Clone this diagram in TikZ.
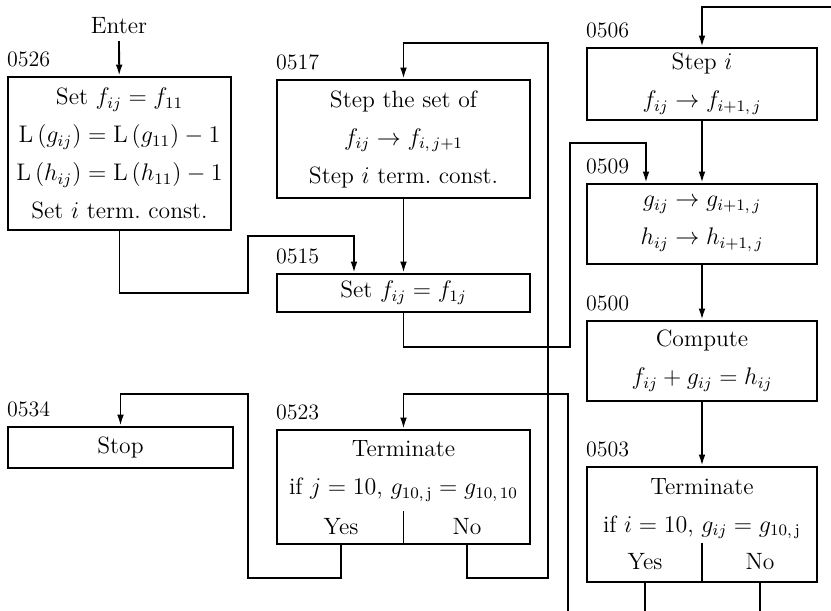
\documentclass[tikz,border=0pt]{standalone}
\usetikzlibrary{arrows.meta}

\begin{document}
\begin{tikzpicture}[x=0.5pt, y=-0.5pt,
        box/.style={draw, line width=1.4pt, inner sep=0pt, align=center, font=\fontsize{11.8}{19}\selectfont},
        addr/.style={anchor=south west, inner xsep=0pt, inner ysep=4pt, font=\fontsize{11}{13}\selectfont},
        txt/.style={font=\fontsize{11.8}{13}\selectfont},
        link/.style={line width=0.9pt, -{Latex[length=5.5pt,width=3.4pt]}},
        line/.style={line width=0.9pt},
        ]
                \useasboundingbox (0,0) rectangle (831,611);

                \node[txt] at(119,26) (enter) {Enter};

                \node[box, minimum width=111.5pt, minimum height=76.5pt] at(119.5,153.5) (0526)
                    {Set $f_{ij} = f_{11}$\\ $\mathrm{L}\,(g_{ij}) = \mathrm{L}\,(g_{11}) - 1$\\ $\mathrm{L}\,(h_{ij}) = \mathrm{L}\,(h_{11}) - 1$\\ Set $i$ term.\ const.};
                \node[box, minimum width=126.5pt, minimum height=59pt] at(403.5,139) (0517)
                    {Step the set of\\ $f_{ij} \to f_{i,\,j+1}$\\ Step $i$ term.\ const.};
                \node[box, minimum width=126.5pt, minimum height=19pt] at(403.5,293) (0515)
                    {Set $f_{ij} = f_{1j}$};
                \node[box, minimum width=115pt, minimum height=36pt] at(702,84) (0506)
                    {Step $i$\\ $f_{ij} \to f_{i+1,\,j}$};
                \node[box, minimum width=115pt, minimum height=40pt] at(702,224) (0509)
                    {$g_{ij} \to g_{i+1,\,j}$\\ $h_{ij} \to h_{i+1,\,j}$};
                \node[box, minimum width=115pt, minimum height=40pt] at(702,361) (0500)
                    {Compute\\ $f_{ij} + g_{ij} = h_{ij}$};
                \node[box, minimum width=115pt, minimum height=57.5pt] at(702,524.5) (0503)
                    {Terminate\\ if $i = 10$, $g_{ij} = g_{10,\,\mathrm{j}}$\\ \phantom{Yes}};
                \node[box, minimum width=112.5pt, minimum height=20.5pt] at(120.5,447.5) (0534)
                    {Stop};
                \node[box, minimum width=126.5pt, minimum height=57pt] at(403.5,487) (0523)
                    {Terminate\\ if $j = 10$, $g_{10,\,\mathrm{j}} = g_{10,\,10}$\\ \phantom{Yes}};

                \node[txt] at(645,562) (y0503) {Yes};
                \node[txt] at(760,562) (n0503) {No};
                \node[txt] at(341,527) (y0523) {Yes};
                \node[txt] at(467,527) (n0523) {No};

                \node[addr] at(0526.north west) (a0526) {0526};
                \node[addr] at(0517.north west) (a0517) {0517};
                \node[addr] at(0515.north west) (a0515) {0515};
                \node[addr] at(0506.north west) (a0506) {0506};
                \node[addr] at(0509.north west) (a0509) {0509};
                \node[addr] at(0500.north west) (a0500) {0500};
                \node[addr] at(0503.north west) (a0503) {0503};
                \node[addr] at(0534.north west) (a0534) {0534};
                \node[addr] at(0523.north west) (a0523) {0523};

                \draw[line] (0503.south) -- ++(0,-40) ;
                \draw[line] (0523.south) -- ++(0,-34) ;

                \coordinate (loop0506) at (831,7);
                \coordinate (loop0523) at (568,611);

                \draw[link] (enter)  --  (0526) ;
                \draw[link] (0526)  |-  (248,293) |- (354,236) -- (354,236 |- 0515.north) ;
                \draw[link] (0517)  --  (0515) ;
                \draw[link] (0515)  |-  (570,347) |- (646,143) -- (646,143 |- 0509.north) ;
                \draw[link] (loop0506)  -|  (0506) ;
                \draw[link] (0506)  --  (0509) ;
                \draw[link] (0509)  --  (0500) ;
                \draw[link] (0500)  --  (0503) ;
                \draw[link] (n0523 |- 0523.south)  |-  (548,578) |- (0517.north |- 0,43) -- (0517.north) ;
                \draw[link] (y0523 |- 0523.south)  |-  (248,578) |- (0534.north |- 0,394) -- (0534.north) ;
                \draw[link] (loop0523)  |-  (0523.north |- 0,394) -- (0523.north) ;
                \draw[line] (y0503 |- 0503.south)  --  (y0503 |- 0,611) ;
                \draw[line] (n0503 |- 0503.south)  --  (n0503 |- 0,611) ;

            \end{tikzpicture}
\end{document}
